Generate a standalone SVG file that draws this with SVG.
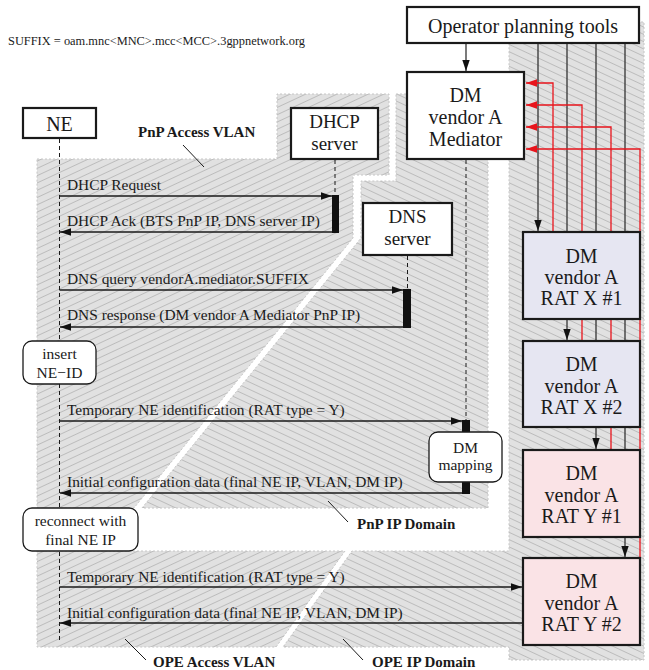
<svg xmlns="http://www.w3.org/2000/svg" width="649" height="670" viewBox="0 0 649 670">
<defs>
<pattern id="hatchA" patternUnits="userSpaceOnUse" width="12" height="6.6" patternTransform="rotate(-25)">
<rect width="12" height="6.6" fill="#e1e1e1"/>
<line x1="0" y1="3.3" x2="12" y2="3.3" stroke="#b4b4b4" stroke-width="0.8"/>
</pattern>
<pattern id="hatchB" patternUnits="userSpaceOnUse" width="12" height="6.6" patternTransform="rotate(25)">
<rect width="12" height="6.6" fill="#e1e1e1"/>
<line x1="0" y1="3.3" x2="12" y2="3.3" stroke="#b4b4b4" stroke-width="0.8"/>
</pattern>
<marker id="ah" markerUnits="userSpaceOnUse" markerWidth="11" markerHeight="8" viewBox="0 0 11 8" refX="11" refY="4" orient="auto">
<path d="M0,0.3L11,4L0,7.7z" fill="#111"/>
</marker>
<marker id="ahr" markerUnits="userSpaceOnUse" markerWidth="11" markerHeight="8" viewBox="0 0 11 8" refX="11" refY="4" orient="auto">
<path d="M0,0.3L11,4L0,7.7z" fill="#e8141c"/>
</marker>
</defs>
<style>
.region{stroke:#c6c6c6;stroke-width:1;stroke-dasharray:2 2}
.box{fill:#fff;stroke:#1a1a1a;stroke-width:2.2}
.ratx{fill:#e6e6f2;stroke:#1a1a1a;stroke-width:2.2}
.raty{fill:#fae3e6;stroke:#1a1a1a;stroke-width:2.2}
.rnd{fill:#fff;stroke:#1a1a1a;stroke-width:1.3}
.t{font-family:"Liberation Serif","Times New Roman",serif;fill:#1a1a1a}
.big{font-size:20px;text-anchor:middle}
.mid{font-size:19px;text-anchor:middle}
.msg{font-size:15.4px}
.sm{font-size:15.5px;text-anchor:middle}
.lbl{font-size:15px;font-weight:bold}
.msgline{stroke:#1a1a1a;stroke-width:1.3;fill:none}
.life{stroke:#1a1a1a;stroke-width:1;stroke-dasharray:4 3}
.bar{fill:#111}
.blk{stroke:#333;stroke-width:1.3;fill:none}
.red{stroke:#e8141c;stroke-width:1.3;fill:none}
.lead{stroke:#1a1a1a;stroke-width:1}
</style>

<g id="regions">
<polygon id="pnp-access-vlan" class="region" fill="url(#hatchA)" points="37,159 277,159 277,94 389,94 389,175 353,175 353,238 134,508 37,508"/>
<polygon id="pnp-ip-domain" class="region" fill="url(#hatchB)" points="396,94 488,94 488,508 142,508 361,238 361,181 396,181"/>
<polygon id="ope-access-vlan" class="region" fill="url(#hatchA)" points="37,551 345,551 276,647 37,647"/>
<polygon id="ope-ip-dm-domain" class="region" fill="url(#hatchB)" points="509,22 644,22 644,660 509,660 509,647 283,647 352,551 509,551"/>
</g>

<g id="text-suffix">
<text class="t" x="8" y="45" font-size="12.4">SUFFIX = oam.mnc&lt;MNC&gt;.mcc&lt;MCC&gt;.3gppnetwork.org</text>
</g>

<g id="connectors">
<line class="blk" x1="466" y1="43" x2="466" y2="71" marker-end="url(#ah)"/>
<line class="blk" x1="538" y1="43" x2="538" y2="231" marker-end="url(#ah)"/>
<line class="blk" x1="567" y1="43" x2="567" y2="340" marker-end="url(#ah)"/>
<line class="blk" x1="596" y1="43" x2="596" y2="449" marker-end="url(#ah)"/>
<line class="blk" x1="625" y1="43" x2="625" y2="557" marker-end="url(#ah)"/>
<path class="red" d="M553,232V83H526" marker-end="url(#ahr)"/>
<path class="red" d="M582,341V105H526" marker-end="url(#ahr)"/>
<path class="red" d="M611,450V127H526" marker-end="url(#ahr)"/>
<path class="red" d="M640,558V149H526" marker-end="url(#ahr)"/>
<line class="life" x1="59.5" y1="139" x2="59.5" y2="640"/>
<line class="life" x1="335" y1="160" x2="335" y2="195"/>
<line class="life" x1="407.5" y1="256" x2="407.5" y2="290"/>
<line class="life" x1="466" y1="160" x2="466" y2="421"/>
<line class="msgline" x1="59.5" y1="196" x2="332" y2="196" marker-end="url(#ah)"/>
<line class="msgline" x1="333" y1="232" x2="60" y2="232" marker-end="url(#ah)"/>
<line class="msgline" x1="59.5" y1="290" x2="403" y2="290" marker-end="url(#ah)"/>
<line class="msgline" x1="404" y1="327" x2="60" y2="327" marker-end="url(#ah)"/>
<line class="msgline" x1="59.5" y1="421" x2="462" y2="421" marker-end="url(#ah)"/>
<line class="msgline" x1="463" y1="493" x2="60" y2="493" marker-end="url(#ah)"/>
<line class="msgline" x1="59.5" y1="587" x2="522" y2="587" marker-end="url(#ah)"/>
<line class="msgline" x1="522" y1="623" x2="60" y2="623" marker-end="url(#ah)"/>
</g>

<g id="activations">
<rect class="bar" x="332" y="195" width="7" height="38"/>
<rect class="bar" x="403" y="289" width="8" height="39"/>
<rect class="bar" x="462" y="420" width="8" height="12"/>
<rect class="bar" x="462" y="482" width="8" height="12"/>
</g>

<g id="message-labels" class="t msg">
<text x="67" y="190">DHCP Request</text>
<text x="67" y="226">DHCP Ack (BTS PnP IP, DNS server IP)</text>
<text x="67" y="284">DNS query vendorA.mediator.SUFFIX</text>
<text x="67" y="320">DNS response (DM vendor A Mediator PnP IP)</text>
<text x="67" y="415">Temporary NE identification (RAT type = Y)</text>
<text x="67" y="487">Initial configuration data (final NE IP, VLAN, DM IP)</text>
<text x="67" y="582">Temporary NE identification (RAT type = Y)</text>
<text x="67" y="618">Initial configuration data (final NE IP, VLAN, DM IP)</text>
</g>

<g id="node-operator-tools">
<rect class="box" x="407" y="7" width="232" height="36"/>
<text class="t big" x="523" y="33">Operator planning tools</text>
</g>
<g id="node-dm-mediator">
<rect class="box" x="407" y="72" width="117" height="87"/>
<text class="t big" x="465.5" y="102">DM</text>
<text class="t big" x="465.5" y="124">vendor A</text>
<text class="t big" x="465.5" y="146">Mediator</text>
</g>
<g id="node-ne">
<rect class="box" x="23" y="108" width="73" height="30"/>
<text class="t big" x="59.5" y="131">NE</text>
</g>
<g id="node-dhcp">
<rect class="box" x="291" y="108" width="87" height="51"/>
<text class="t mid" x="334.5" y="128">DHCP</text>
<text class="t mid" x="334.5" y="150">server</text>
</g>
<g id="node-dns">
<rect class="box" x="363" y="203" width="89" height="52"/>
<text class="t mid" x="407.5" y="223">DNS</text>
<text class="t mid" x="407.5" y="245">server</text>
</g>
<g id="node-ratx1">
<rect class="ratx" x="523" y="232" width="117" height="87"/>
<text class="t big" x="581.5" y="263">DM</text>
<text class="t big" x="581.5" y="284">vendor A</text>
<text class="t big" x="581.5" y="305">RAT X #1</text>
</g>
<g id="node-ratx2">
<rect class="ratx" x="523" y="341" width="117" height="86"/>
<text class="t big" x="581.5" y="371">DM</text>
<text class="t big" x="581.5" y="393">vendor A</text>
<text class="t big" x="581.5" y="414">RAT X #2</text>
</g>
<g id="node-raty1">
<rect class="raty" x="523" y="450" width="117" height="87"/>
<text class="t big" x="581.5" y="480">DM</text>
<text class="t big" x="581.5" y="502">vendor A</text>
<text class="t big" x="581.5" y="523">RAT Y #1</text>
</g>
<g id="node-raty2">
<rect class="raty" x="523" y="558" width="117" height="87"/>
<text class="t big" x="581.5" y="588">DM</text>
<text class="t big" x="581.5" y="610">vendor A</text>
<text class="t big" x="581.5" y="631">RAT Y #2</text>
</g>
<g id="node-insert-neid">
<rect class="rnd" x="23" y="341" width="73" height="43" rx="9"/>
<text class="t sm" x="59.5" y="359">insert</text>
<text class="t sm" x="59.5" y="378">NE−ID</text>
</g>
<g id="node-reconnect">
<rect class="rnd" x="23" y="508" width="115" height="43" rx="9"/>
<text class="t sm" x="80.5" y="526">reconnect with</text>
<text class="t sm" x="80.5" y="545">final NE IP</text>
</g>
<g id="node-dm-mapping">
<rect class="rnd" x="429" y="432" width="73" height="50" rx="9"/>
<text class="t sm" x="465.5" y="453">DM</text>
<text class="t sm" x="465.5" y="470">mapping</text>
</g>

<g id="region-labels">
<line class="lead" x1="183" y1="145" x2="204" y2="167"/>
<text class="t lbl" x="138" y="137">PnP Access VLAN</text>
<line class="lead" x1="328" y1="501" x2="348" y2="522"/>
<text class="t lbl" x="357" y="529">PnP IP Domain</text>
<line class="lead" x1="125" y1="639" x2="146" y2="660"/>
<text class="t lbl" x="153" y="667">OPE Access VLAN</text>
<line class="lead" x1="343" y1="639" x2="363" y2="660"/>
<text class="t lbl" x="372" y="667">OPE IP Domain</text>
</g>
</svg>
